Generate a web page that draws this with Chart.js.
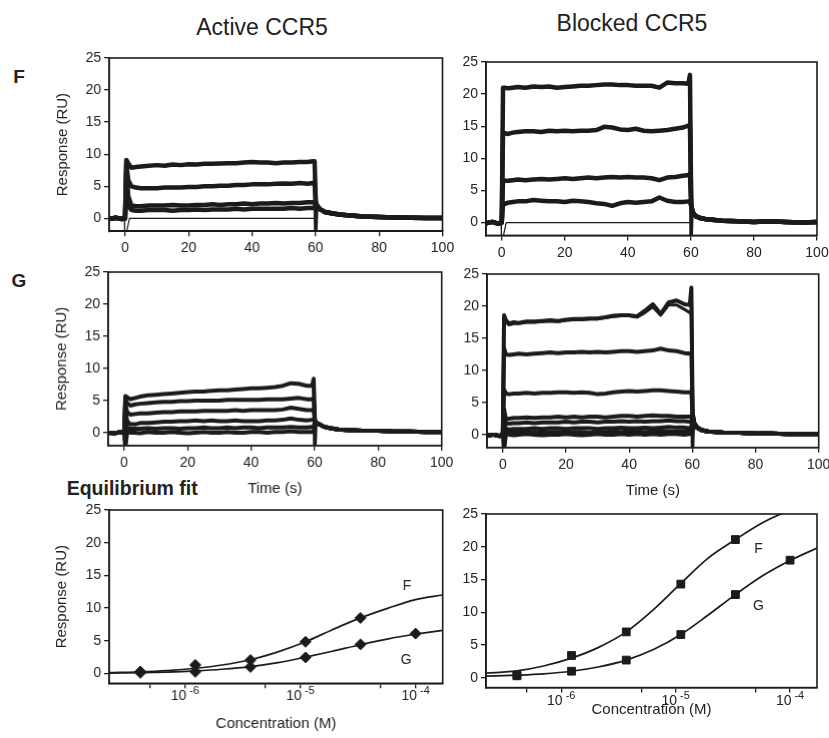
<!DOCTYPE html>
<html lang="en">
<head>
<meta charset="UTF-8">
<title>CCR5 sensorgrams and equilibrium fit</title>
<script src="https://cdn.jsdelivr.net/npm/chart.js"></script>
<style>
    html, body {
        margin: 0;
        padding: 0;
        overflow: hidden;
        background: #fff;
    }
    body {
        width: 829px;
        height: 738px;
        position: relative;
        font-family: 'Liberation Sans', Arial, Helvetica, sans-serif;
        color: #222;
    }
    .panel { position: absolute; }
    .txt {
        position: absolute;
        white-space: nowrap;
        line-height: 1;
        transform: translate(-50%, -50%);
    }
</style>
</head>
<body>

<div class="txt" style="left:262px; top:27px; font-size:23px;">Active CCR5</div>
<div class="txt" style="left:632px; top:22.5px; font-size:23px;">Blocked CCR5</div>
<div class="txt" style="left:19px; top:76px; font-size:19px; font-weight:bold;">F</div>
<div class="txt" style="left:19px; top:280px; font-size:19px; font-weight:bold;">G</div>
<div class="txt" style="left:66.7px; top:489px; font-size:19.5px; font-weight:bold; transform:translate(0,-50%);">Equilibrium fit</div>

<div class="panel" style="left:34px; top:45.7px; width:427.5px; height:245.2px;"><canvas id="activeF"></canvas></div>
<div class="panel" style="left:410.5px; top:49.6px; width:426px; height:245.4px;"><canvas id="blockedF"></canvas></div>
<div class="panel" style="left:33.3px; top:260.3px; width:427.7px; height:244.7px;"><canvas id="activeG"></canvas></div>
<div class="panel" style="left:411.6px; top:262px; width:426.7px; height:244.7px;"><canvas id="blockedG"></canvas></div>
<div class="panel" style="left:34px; top:498px; width:427.7px; height:235.3px;"><canvas id="eqActive"></canvas></div>
<div class="panel" style="left:410.7px; top:501.7px; width:426px; height:235.6px;"><canvas id="eqBlocked"></canvas></div>

<script>
// ---- sensorgram time bases (s) ----
const tPre = [-5, -3, -1, -0.3, 0];
const tAssoc = [0.4, 1, 2, 3.5, 5, 7.5, 10, 12.5, 15, 17.5, 20, 22.5, 25, 27.5, 30,
                32.5, 35, 37.5, 40, 42.5, 45, 47.5, 50, 52.5, 55, 57.5, 59.2, 59.7];
const tDiss = [60.1, 60.6, 61.5, 63, 65, 67.5, 70, 75, 80, 85, 90, 95, 100];
const tSpike = [59.7, 60.05, 60.4];
const tBlank = [-0.2, -0.1, 0.3, 1.4, 59.9];
const blankValues = [0, -2.6, -2.6, 0, 0];

const timeTicks = [0, 20, 40, 60, 80, 100];
const responseTicks = [0, 5, 10, 15, 20, 25];

// ---- Active CCR5, F ----
const activeF_pre = [-0.1, 0.1, -0.1, 0.0, 0.0];
const activeF_1 = [9.1, 8.6, 7.9, 8.0, 8.1, 8.2, 8.3, 8.2, 8.4, 8.3, 8.45, 8.4, 8.5, 8.5, 8.55,
                   8.6, 8.6, 8.7, 8.8, 8.7, 8.7, 8.6, 8.7, 8.7, 8.8, 8.8, 8.9, 8.9];
const activeF_2 = [8.5, 6.0, 5.0, 4.8, 4.7, 4.7, 4.7, 4.8, 4.8, 4.8, 4.9, 4.9, 5.0, 5.0, 5.1,
                   5.1, 5.2, 5.2, 5.3, 5.3, 5.3, 5.4, 5.45, 5.4, 5.5, 5.4, 5.5, 5.5];
const activeF_3 = [7.5, 3.5, 2.0, 1.9, 1.9, 2.0, 2.0, 2.0, 2.1, 2.0, 2.0, 2.1, 2.1, 2.2, 2.1,
                   2.2, 2.2, 2.3, 2.2, 2.3, 2.3, 2.4, 2.3, 2.4, 2.4, 2.5, 2.5, 2.6];
const activeF_4 = [5.0, 2.0, 1.3, 1.2, 1.2, 1.3, 1.3, 1.3, 1.2, 1.3, 1.3, 1.4, 1.3, 1.4, 1.4,
                   1.4, 1.5, 1.4, 1.5, 1.5, 1.5, 1.5, 1.5, 1.6, 1.5, 1.6, 1.6, 1.7];
const activeF_diss = [2.4, 1.9, 1.4, 1.0, 0.8, 0.6, 0.5, 0.3, 0.2, 0.15, 0.1, 0.05, 0.05];
const activeF_spike = [8.9, -2.6, 2.4];

// ---- Blocked CCR5, F ----
const blockedF_pre = [-0.1, 0.1, -0.2, 0.0, 0.0];
const blockedF_1 = [21.0, 21.0, 20.9, 21.0, 21.1, 21.0, 21.2, 21.1, 21.2, 21.0, 21.1, 21.2, 21.3, 21.3, 21.4,
                    21.5, 21.5, 21.4, 21.4, 21.3, 21.3, 21.3, 21.0, 21.8, 21.7, 21.7, 21.6, 23.0];
const blockedF_2 = [14.0, 13.9, 13.8, 14.0, 14.1, 14.2, 14.2, 14.1, 14.3, 14.2, 14.3, 14.2, 14.3, 14.3, 14.4,
                    14.9, 14.8, 14.5, 14.4, 14.6, 14.3, 14.2, 14.3, 14.4, 14.6, 14.8, 15.1, 15.0];
const blockedF_3 = [6.6, 6.5, 6.5, 6.6, 6.7, 6.6, 6.7, 6.8, 6.7, 6.8, 6.9, 6.8, 6.9, 7.0, 6.9,
                    7.0, 7.1, 7.0, 7.1, 7.0, 7.0, 6.9, 6.6, 7.0, 7.1, 7.3, 7.4, 7.6];
const blockedF_4 = [3.0, 2.9, 3.1, 3.2, 3.3, 3.3, 3.5, 3.4, 3.3, 3.3, 3.2, 3.4, 3.3, 3.2, 3.0,
                    2.9, 2.6, 3.0, 3.2, 3.1, 3.2, 3.3, 3.9, 3.4, 3.2, 3.2, 3.3, 3.2];
const blockedF_diss = [2.6, 1.6, 1.0, 0.7, 0.5, 0.4, 0.3, 0.2, 0.1, 0.2, 0.1, 0.0, 0.1];
const blockedF_spike = [22.0, -2.6, 2.6];

// ---- Active CCR5, G ----
const activeG_pre = [0.0, -0.1, 0.1, 0.0, 0.0];
const activeG_1 = [5.7, 5.5, 5.2, 5.4, 5.6, 5.8, 5.9, 6.0, 6.1, 6.2, 6.3, 6.4, 6.4, 6.5, 6.6,
                   6.6, 6.7, 6.8, 6.9, 6.9, 7.0, 7.1, 7.3, 7.7, 7.6, 7.3, 7.3, 8.4];
const activeG_2 = [5.2, 4.6, 4.2, 4.4, 4.5, 4.6, 4.7, 4.8, 4.8, 4.9, 4.9, 5.0, 5.0, 5.0, 5.0,
                   5.1, 5.1, 5.1, 5.1, 5.1, 5.2, 5.2, 5.2, 5.3, 5.4, 5.2, 5.2, 5.3];
const activeG_3 = [4.5, 3.2, 2.8, 2.9, 3.0, 3.0, 3.1, 3.2, 3.2, 3.3, 3.3, 3.3, 3.4, 3.4, 3.4,
                   3.4, 3.5, 3.4, 3.5, 3.5, 3.5, 3.5, 3.6, 3.9, 3.7, 3.5, 3.5, 3.6];
const activeG_4 = [3.5, 1.8, 1.3, 1.3, 1.5, 1.5, 1.6, 1.7, 1.7, 1.8, 1.8, 1.9, 1.8, 1.9, 1.8,
                   1.8, 1.9, 1.8, 1.8, 1.8, 1.9, 1.9, 2.0, 2.2, 2.0, 1.9, 2.0, 2.0];
const activeG_5 = [2.0, 0.8, 0.6, 0.6, 0.6, 0.7, 0.6, 0.7, 0.7, 0.6, 0.7, 0.7, 0.8, 0.7, 0.7,
                   0.8, 0.7, 0.8, 0.8, 0.7, 0.8, 0.8, 0.8, 0.9, 0.8, 0.8, 0.9, 0.9];
const activeG_6 = [-2.5, 0.2, 0.0, 0.0, -0.1, 0.1, 0.0, 0.0, 0.1, 0.0, -0.1, 0.0, 0.1, 0.0, 0.0,
                   0.1, 0.0, 0.0, 0.1, 0.1, 0.0, 0.1, 0.1, 0.2, 0.1, 0.1, 0.1, 0.2];
const activeG_diss = [1.8, 1.5, 1.3, 0.9, 0.7, 0.5, 0.4, 0.3, 0.3, 0.2, 0.2, 0.1, 0.1];
const activeG_spike = [7.3, -2.6, 1.8];

// ---- Blocked CCR5, G ----
const blockedG_pre = [-0.1, 0.0, -0.2, 0.0, 0.0];
const blockedG_1 = [18.6, 17.8, 17.3, 17.5, 17.4, 17.6, 17.6, 17.7, 17.8, 17.7, 17.9, 18.0, 18.0, 18.1, 18.1,
                    18.3, 18.5, 18.6, 18.6, 18.4, 19.3, 20.3, 18.8, 20.6, 20.9, 20.3, 20.2, 22.9];
const blockedG_1b = [18.2, 17.5, 17.1, 17.3, 17.3, 17.5, 17.5, 17.6, 17.7, 17.6, 17.8, 17.9, 17.9, 18.0, 18.0,
                     18.2, 18.4, 18.5, 18.5, 18.3, 19.0, 19.9, 18.6, 20.2, 20.2, 19.5, 19.0, 19.2];
const blockedG_2 = [13.5, 12.5, 12.4, 12.5, 12.6, 12.5, 12.6, 12.7, 12.8, 12.7, 12.8, 12.8, 12.9, 12.8, 12.9,
                    12.8, 12.9, 13.0, 13.0, 12.9, 13.0, 13.1, 13.4, 13.1, 13.0, 12.7, 12.6, 12.8];
const blockedG_3 = [7.0, 6.4, 6.3, 6.4, 6.4, 6.5, 6.4, 6.5, 6.5, 6.6, 6.6, 6.5, 6.6, 6.5, 6.3,
                    6.4, 6.6, 6.7, 6.8, 6.7, 6.8, 6.9, 6.9, 6.8, 6.7, 6.6, 6.6, 6.7];
const blockedG_4 = [4.0, 2.4, 2.5, 2.6, 2.6, 2.7, 2.6, 2.7, 2.7, 2.8, 2.7, 2.8, 2.7, 2.8, 2.8,
                    2.7, 2.8, 2.9, 2.9, 2.8, 2.9, 3.0, 2.9, 2.9, 2.8, 2.8, 2.8, 2.9];
const blockedG_5 = [3.0, 1.8, 1.7, 1.8, 1.8, 1.9, 1.8, 1.9, 1.9, 1.9, 2.0, 1.9, 2.0, 2.0, 1.9,
                    2.0, 2.0, 2.1, 2.0, 2.1, 2.0, 2.1, 2.1, 2.2, 2.1, 2.1, 2.0, 2.1];
const blockedG_6 = [2.0, 0.9, 0.8, 0.9, 0.9, 0.9, 1.0, 0.9, 1.0, 1.0, 0.9, 1.0, 1.0, 1.0, 0.9,
                    1.0, 1.0, 1.1, 1.0, 1.0, 1.1, 1.0, 1.1, 1.2, 1.1, 1.1, 1.0, 1.1];
const blockedG_7 = [1.2, 0.3, 0.3, 0.3, 0.4, 0.3, 0.4, 0.3, 0.4, 0.4, 0.3, 0.4, 0.4, 0.3, 0.4,
                    0.4, 0.5, 0.4, 0.5, 0.5, 0.4, 0.5, 0.6, 0.5, 0.5, 0.5, 0.5, 0.6];
const blockedG_8 = [-2.5, 0.1, 0.0, -0.1, 0.0, 0.1, 0.0, -0.1, 0.0, 0.0, 0.1, 0.0, -0.1, 0.0, 0.1,
                    0.0, 0.0, 0.1, 0.0, 0.1, 0.0, 0.1, 0.0, 0.1, 0.1, 0.0, 0.1, 0.1];
const blockedG_diss = [3.0, 1.8, 1.1, 0.7, 0.5, 0.4, 0.3, 0.3, 0.2, 0.2, 0.1, 0.1, 0.1];
const blockedG_spike = [20.2, -2.6, 3.0];

// ---- equilibrium responses (M, RU) ----
const conc = [4.1e-7, 1.23e-6, 3.7e-6, 1.11e-5, 3.33e-5, 1e-4];
const activeF_eq = [0.3, 1.3, 2.05, 4.85, 8.5];
const activeG_eq = [0.1, 0.25, 1.0, 2.45, 4.45, 6.1];
const blockedF_eq = [0.4, 3.4, 7.0, 14.3, 21.1];
const blockedG_eq = [0.3, 1.0, 2.7, 6.6, 12.7, 17.95];

// fitted curves
const fitConc = [2.2e-7, 4.1e-7, 7e-7, 1.23e-6, 2.1e-6, 3.7e-6, 6.4e-6, 1.11e-5, 1.9e-5, 3.33e-5, 5.8e-5, 1e-4, 1.72e-4];
const activeF_fit = [0.12, 0.25, 0.45, 0.8, 1.3, 2.1, 3.3, 4.85, 6.7, 8.5, 10.0, 11.3, 12.0];
const activeG_fit = [0.05, 0.12, 0.22, 0.4, 0.65, 1.05, 1.65, 2.5, 3.4, 4.4, 5.3, 6.0, 6.6];
const blockedF_fit = [0.7, 1.05, 1.8, 3.0, 4.6, 7.0, 10.4, 14.4, 18.2, 21.1, 23.7, 25.6, 27.0];
const blockedG_fit = [0.25, 0.4, 0.6, 1.0, 1.65, 2.7, 4.3, 6.6, 9.5, 12.7, 15.6, 17.9, 19.8];

const concTicks = [5e-7, 1e-6, 5e-6, 1e-5, 5e-5, 1e-4];
const decadeValues = [1e-6, 1e-5, 1e-4];
const decadeExps = ['-6', '-5', '-4'];

// curve labels inside the equilibrium panels
const curveNames = ['F', 'G'];
const activeLabelConc = [8.4e-5, 8.3e-5];
const activeLabelResp = [13.3, 2.0];
const blockedLabelConc = [5.3e-5, 5.3e-5];
const blockedLabelResp = [19.7, 10.9];

// ---------------------------------------------------------------
const FONT = "'Liberation Sans', Arial, Helvetica, sans-serif";
const INK = '#1b1b1b';
Chart.defaults.font.family = FONT;
Chart.defaults.font.size = 14;
Chart.defaults.color = '#222';
Chart.defaults.animation = false;

function pts(xs, ys) {
    return ys.map((y, i) => ({x: xs[i], y: y}));
}

function fullTrace(pre, assoc, diss) {
    return pts(tPre.concat(tAssoc, tDiss), pre.concat(assoc, diss));
}

function line(points, width) {
    return {data: points, borderColor: INK, borderWidth: width, pointRadius: 0,
            tension: 0, fill: false, borderJoinStyle: 'round'};
}

// box around the plotting area
const framePlugin = {
    id: 'frame',
    afterDraw(chart) {
        const {ctx, chartArea: a} = chart;
        ctx.save();
        ctx.strokeStyle = INK;
        ctx.lineWidth = 1.6;
        ctx.strokeRect(a.left, a.top, a.right - a.left, a.bottom - a.top);
        ctx.restore();
    }
};

function curveLabels(xs, ys) {
    return {
        id: 'curveLabels',
        afterDraw(chart) {
            const {ctx, scales: {x, y}} = chart;
            ctx.save();
            ctx.font = '14px ' + FONT;
            ctx.fillStyle = '#222';
            ctx.textAlign = 'center';
            ctx.textBaseline = 'middle';
            curveNames.forEach((name, i) => {
                ctx.fillText(name, x.getPixelForValue(xs[i]), y.getPixelForValue(ys[i]));
            });
            ctx.restore();
        }
    };
}

// "10 -6" style labels with a raised exponent
function decadeLabels(offset) {
    return {
        id: 'decadeLabels',
        afterDraw(chart) {
            const {ctx, scales: {x}, chartArea} = chart;
            const base = chartArea.bottom + offset;
            ctx.save();
            ctx.fillStyle = '#222';
            ctx.textAlign = 'left';
            ctx.textBaseline = 'alphabetic';
            decadeValues.forEach((v, i) => {
                const px = x.getPixelForValue(v);
                ctx.font = '14px ' + FONT;
                const w1 = ctx.measureText('10').width;
                ctx.font = '11px ' + FONT;
                const w2 = ctx.measureText(decadeExps[i]).width;
                const gap = 3;
                const start = px - (w1 + gap + w2) / 2;
                ctx.font = '14px ' + FONT;
                ctx.fillText('10', start, base);
                ctx.font = '11px ' + FONT;
                ctx.fillText(decadeExps[i], start + w1 + gap, base - 6);
            });
            ctx.restore();
        }
    };
}

const axisGrid = {drawOnChartArea: false, drawTicks: true, tickLength: 5, color: INK, lineWidth: 1.3};
const axisBorder = {display: true, color: INK, width: 1.6};

function yAxis(min, showTitle, titlePad) {
    return {
        min: min, max: 25,
        afterBuildTicks: s => { s.ticks = responseTicks.map(v => ({value: v})); },
        afterFit: s => { s.width = 75; },
        grid: axisGrid,
        border: axisBorder,
        ticks: {padding: 3, autoSkip: false},
        title: {display: showTitle, text: 'Response (RU)', font: {size: 15},
                padding: {top: titlePad, bottom: 0}}
    };
}

function sensorChart(id, datasets, showY, yPad, showX) {
    new Chart(document.getElementById(id), {
        type: 'line',
        data: {datasets: datasets},
        options: {
            responsive: true,
            maintainAspectRatio: false,
            parsing: false,
            layout: {padding: {top: 12, right: 20, left: 0, bottom: 0}},
            plugins: {legend: {display: false}, tooltip: {enabled: false}},
            scales: {
                x: {
                    type: 'linear', min: -5, max: 100,
                    afterBuildTicks: s => { s.ticks = timeTicks.map(v => ({value: v})); },
                    afterFit: s => { s.height = 60; },
                    grid: axisGrid,
                    border: axisBorder,
                    ticks: {padding: 4, autoSkip: false, maxRotation: 0},
                    title: {display: showX, text: 'Time (s)', font: {size: 15},
                            padding: {top: 0, bottom: 7.7}}
                },
                y: yAxis(-2, showY, yPad)
            }
        },
        plugins: [framePlugin]
    });
}

function eqChart(id, markerStyle, fData, gData, fFit, gFit, labelX, labelY, titlePad, showY, yPad, exOffset) {
    new Chart(document.getElementById(id), {
        type: 'line',
        data: {
            datasets: [
                {data: pts(fitConc, fFit), borderColor: INK, borderWidth: 1.7, pointRadius: 0,
                 cubicInterpolationMode: 'monotone', fill: false},
                {data: pts(fitConc, gFit), borderColor: INK, borderWidth: 1.7, pointRadius: 0,
                 cubicInterpolationMode: 'monotone', fill: false},
                {data: pts(conc, fData), showLine: false, pointStyle: markerStyle, pointRadius: 5.5,
                 backgroundColor: INK, borderColor: INK, borderWidth: 1},
                {data: pts(conc, gData), showLine: false, pointStyle: markerStyle, pointRadius: 5.5,
                 backgroundColor: INK, borderColor: INK, borderWidth: 1}
            ]
        },
        options: {
            responsive: true,
            maintainAspectRatio: false,
            parsing: false,
            layout: {padding: {top: 12, right: 20, left: 0, bottom: 0}},
            plugins: {legend: {display: false}, tooltip: {enabled: false}},
            scales: {
                x: {
                    type: 'logarithmic', min: 2.2e-7, max: 1.72e-4,
                    afterBuildTicks: s => { s.ticks = concTicks.map(v => ({value: v})); },
                    afterFit: s => { s.height = 50; },
                    grid: axisGrid,
                    border: axisBorder,
                    ticks: {autoSkip: false, maxRotation: 0, callback: () => ''},
                    title: {display: true, text: 'Concentration (M)', font: {size: 15},
                            padding: {top: 0, bottom: titlePad}}
                },
                y: yAxis(-1.5, showY, yPad)
            }
        },
        plugins: [framePlugin, curveLabels(labelX, labelY), decadeLabels(exOffset)]
    });
}

sensorChart('activeF', [
    line(fullTrace(activeF_pre, activeF_1, activeF_diss), 4.5),
    line(fullTrace(activeF_pre, activeF_2, activeF_diss), 4.5),
    line(fullTrace(activeF_pre, activeF_3, activeF_diss), 4.5),
    line(fullTrace(activeF_pre, activeF_4, activeF_diss), 4.5),
    line(pts(tSpike, activeF_spike), 3.5),
    line(pts(tBlank, blankValues), 1.2)
], true, 20, false);

sensorChart('blockedF', [
    line(fullTrace(blockedF_pre, blockedF_1, blockedF_diss), 4.5),
    line(fullTrace(blockedF_pre, blockedF_2, blockedF_diss), 4.5),
    line(fullTrace(blockedF_pre, blockedF_3, blockedF_diss), 4.5),
    line(fullTrace(blockedF_pre, blockedF_4, blockedF_diss), 4.5),
    line(pts(tSpike, blockedF_spike), 3.5),
    line(pts(tBlank, blankValues), 1.2)
], false, 0, false);

sensorChart('activeG', [
    line(fullTrace(activeG_pre, activeG_1, activeG_diss), 4),
    line(fullTrace(activeG_pre, activeG_2, activeG_diss), 4),
    line(fullTrace(activeG_pre, activeG_3, activeG_diss), 4),
    line(fullTrace(activeG_pre, activeG_4, activeG_diss), 4),
    line(fullTrace(activeG_pre, activeG_5, activeG_diss), 4),
    line(fullTrace(activeG_pre, activeG_6, activeG_diss), 4),
    line(pts(tSpike, activeG_spike), 3.5)
], true, 19.5, true);

sensorChart('blockedG', [
    line(fullTrace(blockedG_pre, blockedG_1, blockedG_diss), 4),
    line(fullTrace(blockedG_pre, blockedG_1b, blockedG_diss), 3),
    line(fullTrace(blockedG_pre, blockedG_2, blockedG_diss), 4),
    line(fullTrace(blockedG_pre, blockedG_3, blockedG_diss), 4),
    line(fullTrace(blockedG_pre, blockedG_4, blockedG_diss), 4),
    line(fullTrace(blockedG_pre, blockedG_5, blockedG_diss), 4),
    line(fullTrace(blockedG_pre, blockedG_6, blockedG_diss), 4),
    line(fullTrace(blockedG_pre, blockedG_7, blockedG_diss), 4),
    line(fullTrace(blockedG_pre, blockedG_8, blockedG_diss), 4),
    line(pts(tSpike, blockedG_spike), 3.5)
], false, 0, true);

eqChart('eqActive', 'rectRot', activeF_eq, activeG_eq, activeF_fit, activeG_fit,
        activeLabelConc, activeLabelResp, 0, true, 19, 17);
eqChart('eqBlocked', 'rect', blockedF_eq, blockedG_eq, blockedF_fit, blockedG_fit,
        blockedLabelConc, blockedLabelResp, 19, false, 0, 17);
</script>
</body>
</html>
